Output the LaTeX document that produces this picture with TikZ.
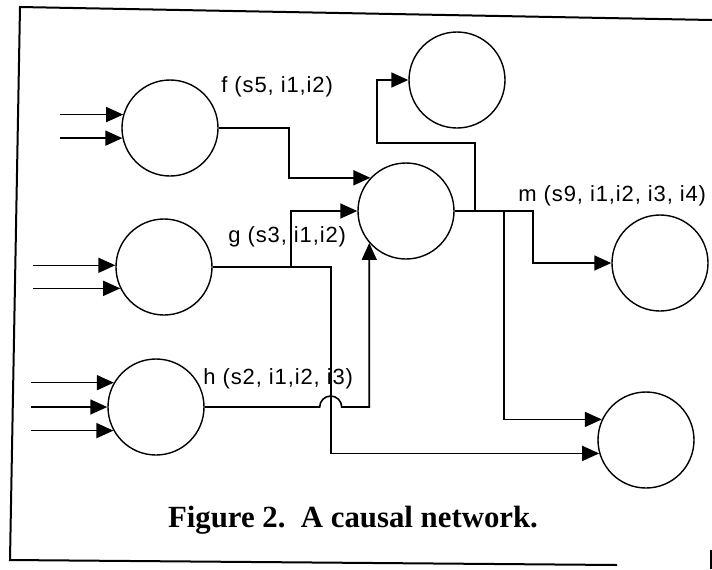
\documentclass[tikz,border=0pt]{standalone}
\usepackage{fontspec}
\setmainfont{Liberation Serif}
\newfontfamily\labelfont{Liberation Sans}[LetterSpace=4]
\usetikzlibrary{arrows.meta}

\begin{document}
\begin{tikzpicture}[x=0.5pt,y=-0.5pt,
  unit/.style={draw,circle,line width=0.7pt,minimum size=48pt,inner sep=0pt},
  arr/.style={line width=0.8pt,-{Triangle[length=8.5pt,width=7.5pt]}},
  lbl/.style={anchor=base west,inner sep=0pt,font=\labelfont\fontsize{11}{13}\selectfont}]
  \useasboundingbox (0,0) rectangle (712,569);
  % frame
  \draw[line width=1pt] (712,20) -- (20,7) -- (10,560) -- (617,565);
  \draw[line width=1pt] (711,550) -- (711,569);

  % units
  \node[unit] (f) at (170,128) {};
  \node[unit] (g) at (164,267) {};
  \node[unit] (h) at (156,407) {};
  \node[unit] (c) at (406,211) {};
  \node[unit] (t) at (457,80) {};
  \node[unit] (m) at (660,263) {};
  \node[unit] (b) at (646,440) {};

  % inputs
  \coordinate (fin) at (60,0);
  \coordinate (gin) at (33,0);
  \coordinate (hin) at (31,0);
  \draw[arr] (f.164 -| fin) -- (f.164);
  \draw[arr] (f.192 -| fin) -- (f.192);
  \draw[arr] (g.178 -| gin) -- (g.178);
  \draw[arr] (g.206 -| gin) -- (g.206);
  \draw[arr] (h.150 -| hin) -- (h.150);
  \draw[arr] (h.180 -| hin) -- (h.180);
  \draw[arr] (h.209 -| hin) -- (h.209);

  % links
  \draw[arr] (f.east) -- ++(70,0) |- (c.137);
  \draw[arr] (g.east) -- ++(78,0) |- (c.west);
  \draw[arr] (g.east) -- ++(118,0) |- (b.196);
  \draw[arr] (h.east) -- ++(115,0) arc[start angle=180,end angle=0,radius=5.5pt] -| (c.221);
  \draw[arr] (c.east) -- ++(20,0) |- ++(-98,-68) |- (t.west);
  \draw[arr] (c.east) -- ++(49,0) |- (b.155);
  \draw[arr] (c.east) -- ++(78,0) |- (m.west);

  % labels
  \node[lbl] (flab) at (221,92) {f (s5, i1,i2)};
  \node[lbl] (glab) at (228,242) {g (s3, i1,i2)};
  \node[lbl] (hlab) at (203,384) {h (s2, i1,i2, i3)};
  \node[lbl] (mlab) at (518,201) {m (s9, i1,i2, i3, i4)};
  \node[anchor=base,inner sep=0pt,font=\bfseries\fontsize{15.4}{18}\selectfont] (cap) at (353,527) {Figure 2.\ \ A causal network.};
\end{tikzpicture}
\end{document}
